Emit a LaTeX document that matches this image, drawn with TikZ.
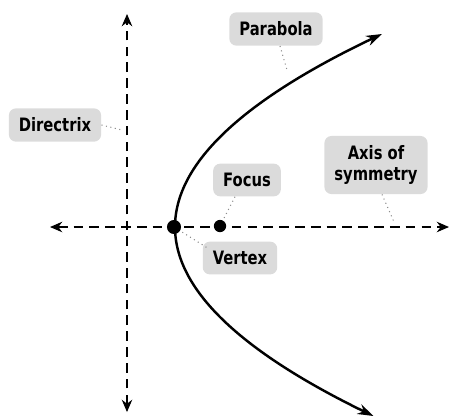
\documentclass[tikz,border=0pt]{standalone}
\usepackage{fontspec}
\usepackage{xcolor}
\usepackage{tikz}
\usetikzlibrary{calc,positioning,arrows.meta}
\newfontfamily\lblfont{DejaVu Sans}[FakeStretch=0.8]

\tikzset{
    lbl/.style={
        fill=black!14,
        rounded corners=4pt,
        font=\lblfont\bfseries\fontsize{10.5}{12}\selectfont,
        align=center,
        inner xsep=0.2cm,
        inner ysep=0.19cm
    },
    leader/.style={black!45,line width=0.6pt,dotted},
    guide/.style={black,line width=0.7pt,dash pattern=on 5.5pt off 3.5pt,
        {Stealth[length=7pt,width=6pt]}-{Stealth[length=7pt,width=6pt]}},
    dotpt/.style={circle,fill=black,inner sep=0pt}
}

\begin{document}
\begin{tikzpicture}[x=0.02cm,y=-0.02cm]
        \useasboundingbox (0,0) rectangle (449,417);
        \coordinate (dirtop) at (127,14);
        \coordinate (dirbot) at (127,412);
        \coordinate (axl) at (50,227);
        \coordinate (axr) at (449,227);
        \draw[guide] (dirbot) -- (dirtop);
        \draw[guide] (axl) -- (axr);
        \draw[black,line width=1.4pt,
            {Stealth[length=9pt,width=6pt]}-{Stealth[length=9pt,width=6pt]}]
            plot[domain=-19.3:18.9,samples=80,smooth]
            ({175+\x*\x/1.8},{227+10*\x});
        \node[dotpt,minimum size=8pt] (vertex) at (174,227) {};
        \node[dotpt,minimum size=7pt] (focus) at (220,226) {};
        \node[lbl] (parabola) at (276,29) {Parabola};
        \node[lbl] (directrix) at (55,125) {Directrix};
        \node[lbl] (focuslbl) at (247,180) {Focus};
        \node[lbl] (axislbl) at (376,165) {Axis of\\symmetry};
        \node[lbl] (vertexlbl) at (240,258) {Vertex};
        \coordinate (partip) at (287,70);
        \coordinate (dirtip) at (122,130);
        \coordinate (axtip) at (394,222);
        \draw[leader] (parabola.south) ++(4,0) -- (partip);
        \draw[leader] (directrix.east) -- (dirtip);
        \draw[leader] (focuslbl.south) ++(-12,0) -- (focus);
        \draw[leader] (axislbl.south) ++(6,0) -- (axtip);
        \draw[leader] (vertexlbl.north west) ++(4,6) -- (vertex);
    \end{tikzpicture}
\end{document}
